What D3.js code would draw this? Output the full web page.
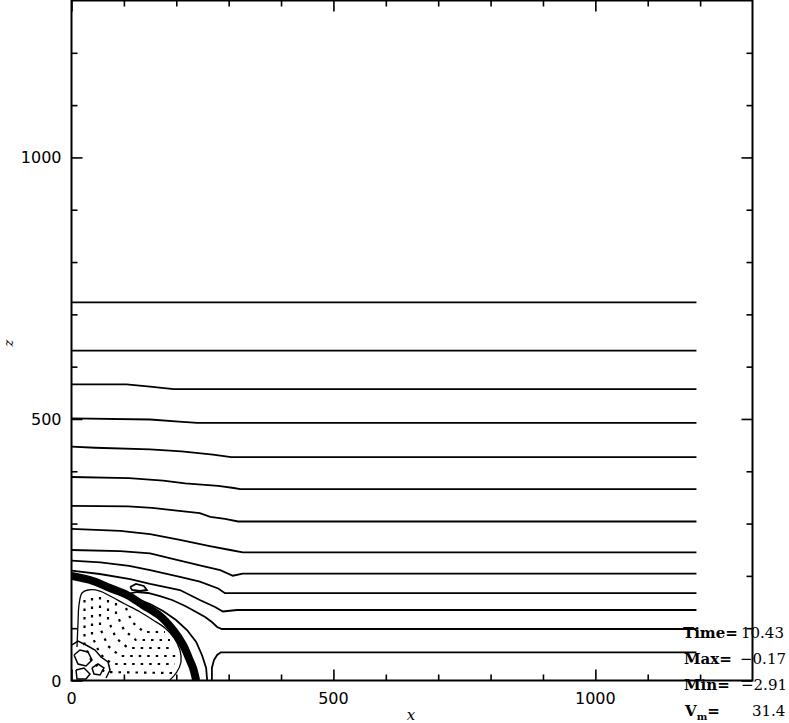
<!DOCTYPE html>
<html><head><meta charset="utf-8">
<script src="https://cdn.jsdelivr.net/npm/d3@7"></script>
<style>html,body{margin:0;padding:0;background:#fff;} svg{display:block;}</style>
</head><body>
<svg id="chart" width="789" height="723"></svg>
<script>
// ---- axes ----
const xDomain = [0, 1300];
const zDomain = [0, 1300];
const majorTicks = [0, 500, 1000];
const minorTicks = [100, 200, 300, 400, 600, 700, 800, 900, 1100, 1200];
const xTickLabels = ["0", "500", "1000"];
const zTickLabels = ["0", "500", "1000"];

// ---- contour lines (x, z) ----
const contour723 = [[0,723],[1193,723]];
const contour630 = [[0,630.5],[1193,630.5]];
const contour557 = [[0,566],[105,566],[150,562],[195,557],[1193,557]];
const contour492 = [[0,501],[150,499],[205,495],[240,492.5],[1193,492.5]];
const contour427 = [[0,447],[45,445],[150,442],[210,438],[270,432],[305,427],[1193,427]];
const contour366 = [[0,389],[110,387],[175,382],[217,377],[280,372],[310,368],[322,366],[1193,366]];
const contour304 = [[0,334],[108,333],[154,330],[188,326],[245,320],[265,313],[293,309],[318,304],[1193,304]];
const contour245 = [[0,290],[93,286],[150,280],[207,269],[264,257],[303,249.5],[327,245],[1193,245]];
const contour204 = [[0,249.5],[93,247.5],[150,243],[207,229],[255,217.5],[284,211],[308,200.3],[327,204.2],[1193,204.2]];
const contour167 = [[0,229],[55,226],[110,219],[150,211],[207,198],[245,189],[280,176],[293,167],[1193,167]];
const contour135 = [[0,210],[54,203.6],[112,194],[150,184.5],[207,173],[245,154],[274,140.5],[289,132],[316,134.8],[1193,134.8]];
const contour98 = [[108,165.4],[125,169.2],[146,167.3],[169,161.5],[192,153.9],[217,142.4],[238,131],[255,121.4],[268,111.8],[278,102.3],[287,98.5],[1193,98.5]];
const contour54 = [[268,0],[268,24],[272,39],[278,48.8],[285,53.9],[1193,53.9]];
const outerRim = [[259,0],[257,24],[249,48.8],[238,73.6],[220.5,96.5],[199.5,115.7],[174.7,132.9],[150,146.2],[131,153.9]];
const smallLoop = [[112,178.7],[123,184.5],[138,180.7],[144,173],[131,171.1],[115.5,173],[112,178.7]];

// shock front (dense bundle of contours)
const shockFront = [[0,200],[41,190.2],[73.5,176.8],[106,163.5],[136.5,144.3],[169,123.3],[194,96.5],[213,67.9],[224,43],[232,24],[238,0]];
const innerContour = [[188,1],[201,16.2],[209,35.4],[207,58.3],[196,81.2],[178.5,100.4],[155.6,115.7],[131,130.9],[102,146.2],[73.5,161.5],[54.4,171.1],[31.5,173],[20,167.3],[14.3,144.3],[12.4,109.9],[10.5,64]];

// dashed (negative) contours inside the front
const dashed1 = [[24.8,153.9],[24.8,67.9],[39.1,35.4],[64,16.2],[192,14.3]];
const dashed2 = [[39.1,157.7],[39.1,85.1],[54.4,50.7],[77.3,31.5],[197.6,31.5]];
const dashed3 = [[54.4,159.6],[54.4,100.4],[69.7,66],[92.6,46.8],[199.5,46.8]];
const dashed4 = [[69.7,153.9],[69.7,115.7],[84.9,81.2],[108,62.1],[195.7,62.1]];
const dashed5 = [[84.9,148.2],[84.9,129],[100.2,96.5],[123,77.4],[188,77.4]];
const dashed6 = [[104,138.6],[115.5,111.8],[138.4,92.7],[178.5,92.7]];

// small tangled contours near the origin
const tangle1 = [[4.8,48.8],[16.2,58.3],[31.5,54.5],[39.1,39.2],[27.7,27.7],[12.4,31.5],[4.8,48.8]];
const tangle2 = [[8.6,20.1],[23.9,23.9],[35.3,12.4],[27.7,2.9],[10.5,2.9],[8.6,20.1]];
const tangle3 = [[39.1,23.9],[50.6,31.5],[62,23.9],[54.4,10.5],[43,12.4],[39.1,23.9]];
const tangle4 = [[1,67.9],[12.4,75.5],[27.7,67.9],[44.9,58.3],[56.3,44.9],[69.7,35.4],[73.5,20.1],[65.9,4.8]];

// ---- annotation ----
const statNames = ["Time=", "Max=", "Min=", "V"];
const statValues = ["10.43", "\u22120.17", "\u22122.91", "31.4"];

// ---- drawing ----
const svg = d3.select("#chart");
const x = d3.scaleLinear().domain(xDomain).range([71.5, 752.5]);
const y = d3.scaleLinear().domain(zDomain).range([680.5, 0.5]);

svg.append("defs").append("clipPath").attr("id","plotclip")
  .append("rect").attr("x",71.5).attr("y",0.5).attr("width",681).attr("height",680);

const line = d3.line().x(d => x(d[0])).y(d => y(d[1]));
const smooth = d3.line().x(d => x(d[0])).y(d => y(d[1])).curve(d3.curveCatmullRom);

const plot = svg.append("g").attr("clip-path","url(#plotclip)");

const solidLines = [contour723, contour630, contour557, contour492, contour427, contour366,
  contour304, contour245, contour204, contour167, contour135, contour98, contour54,
  outerRim, smallLoop];
plot.selectAll("path.solid").data(solidLines).join("path")
  .attr("class","solid").attr("d", line)
  .attr("fill","none").attr("stroke","#000").attr("stroke-width",1.8);

plot.append("path").attr("d", smooth(shockFront))
  .attr("fill","none").attr("stroke","#000").attr("stroke-width",8);
plot.append("path").attr("d", smooth(innerContour))
  .attr("fill","none").attr("stroke","#000").attr("stroke-width",1.3);

const dashedLines = [dashed1, dashed2, dashed3, dashed4, dashed5, dashed6];
plot.selectAll("path.dash").data(dashedLines).join("path")
  .attr("class","dash").attr("d", line)
  .attr("fill","none").attr("stroke","#000").attr("stroke-width",2.2)
  .attr("stroke-dasharray","2.5,6");

const tangles = [tangle1, tangle2, tangle3, tangle4];
plot.selectAll("path.tangle").data(tangles).join("path")
  .attr("class","tangle").attr("d", line)
  .attr("fill","none").attr("stroke","#000").attr("stroke-width",1.5);

// frame
svg.append("rect").attr("x",71.5).attr("y",0.5).attr("width",681).attr("height",680)
  .attr("fill","none").attr("stroke","#000").attr("stroke-width",2);

function ticks(axisFn, scale, values, size, transform) {
  const g = svg.append("g").attr("transform", transform)
    .call(axisFn(scale).tickValues(values).tickSize(-size).tickFormat(""));
  g.select(".domain").remove();
  g.selectAll(".tick line").attr("stroke","#000").attr("stroke-width",1.6);
}
ticks(d3.axisBottom, x, minorTicks, 6, `translate(0,${y(0)})`);
ticks(d3.axisBottom, x, majorTicks, 11, `translate(0,${y(0)})`);
ticks(d3.axisTop, x, minorTicks, 6, `translate(0,${y(1300)})`);
ticks(d3.axisTop, x, majorTicks, 11, `translate(0,${y(1300)})`);
ticks(d3.axisLeft, y, minorTicks, 6, `translate(${x(0)},0)`);
ticks(d3.axisLeft, y, majorTicks, 11, `translate(${x(0)},0)`);
ticks(d3.axisRight, y, minorTicks, 6, `translate(${x(1300)},0)`);
ticks(d3.axisRight, y, majorTicks, 11, `translate(${x(1300)},0)`);

const font = "'DejaVu Sans', sans-serif";
svg.selectAll("text.xl").data(majorTicks).join("text").attr("class","xl")
  .attr("x", d => x(d)).attr("y", 703.5).attr("text-anchor","middle")
  .attr("font-family", font).attr("font-size",16).text((d,i) => xTickLabels[i]);
svg.selectAll("text.zl").data(majorTicks).join("text").attr("class","zl")
  .attr("x", 61.5).attr("y", d => y(d) + 6).attr("text-anchor","end")
  .attr("font-family", font).attr("font-size",16).text((d,i) => zTickLabels[i]);

svg.append("text").attr("x", 411).attr("y", 720).attr("text-anchor","middle")
  .attr("font-family","'DejaVu Serif', serif").attr("font-style","italic").attr("font-size",15).text("x");
svg.append("text").attr("transform","translate(13,343) rotate(-90)").attr("text-anchor","middle")
  .attr("font-family","'DejaVu Serif', serif").attr("font-style","italic").attr("font-size",13).text("z");

// statistics box
const statY = [638, 664, 690, 716];
const nameX = [683, 684, 684, 685];
const valX = [741, 740, 741, 752];
statNames.forEach((n, i) => {
  const t = svg.append("text").attr("x", nameX[i]).attr("y", statY[i])
    .attr("font-family","'DejaVu Serif', serif").attr("font-weight","bold").attr("font-size",15);
  t.append("tspan").text(n);
  if (n === "V") {
    t.append("tspan").attr("dy",4).attr("font-size",10).text("m");
    t.append("tspan").attr("dy",-4).text("=");
  }
  svg.append("text").attr("x", valX[i]).attr("y", statY[i])
    .attr("font-family","'DejaVu Serif', serif").attr("font-size",15).text(statValues[i]);
});
</script>
</body></html>
